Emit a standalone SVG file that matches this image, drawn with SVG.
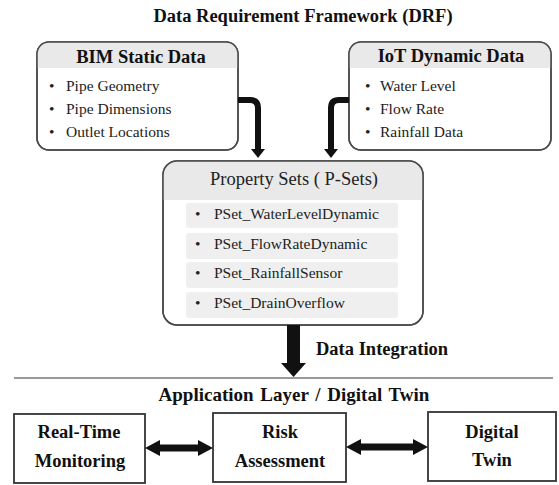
<svg xmlns="http://www.w3.org/2000/svg" width="559" height="485" viewBox="0 0 559 485">
  <style>
    .title { font-family: "Liberation Serif", "Times New Roman", serif; font-weight: bold; fill: #111; }
    .item { font-family: "Liberation Serif", "Times New Roman", serif; font-size: 15.5px; fill: #222; }
    .card { fill: #ffffff; stroke: #4a4a4a; stroke-width: 1.5; }
    .head { fill: #e9e9e9; }
    .row { fill: #efefef; }
    .box { fill: #ffffff; stroke: #333333; stroke-width: 1.8; }
    .link { fill: none; stroke: #111; stroke-width: 6; }
    .solid { fill: #111; }
  </style>
  <defs>
    <marker id="tip" markerUnits="userSpaceOnUse" markerWidth="10" markerHeight="14" refX="0" refY="7" orient="auto">
      <path d="M0,0 L9,7 L0,14 Z" fill="#111"/>
    </marker>
    <clipPath id="clipBim"><rect x="37" y="42" width="201" height="108" rx="12"/></clipPath>
    <clipPath id="clipIot"><rect x="349" y="42" width="202" height="108" rx="12"/></clipPath>
    <clipPath id="clipPset"><rect x="163" y="161" width="260" height="164" rx="14"/></clipPath>
  </defs>

  <rect width="559" height="485" fill="#ffffff"/>

  <text class="title" x="303" y="22" font-size="18.5" text-anchor="middle">Data Requirement Framework (DRF)</text>

  <!-- static BIM data card -->
  <g id="bim">
    <rect class="card" x="37" y="42" width="201" height="108" rx="12"/>
    <rect class="head" x="37" y="42" width="201" height="26" clip-path="url(#clipBim)"/>
    <rect x="37" y="42" width="201" height="108" rx="12" fill="none" stroke="#4a4a4a" stroke-width="1.5"/>
    <text class="title" x="141" y="63" font-size="18.5" text-anchor="middle">BIM Static Data</text>
    <text class="item" x="49" y="91">•</text>
    <text class="item" x="66" y="91">Pipe Geometry</text>
    <text class="item" x="49" y="114">•</text>
    <text class="item" x="66" y="114">Pipe Dimensions</text>
    <text class="item" x="49" y="137">•</text>
    <text class="item" x="66" y="137">Outlet Locations</text>
  </g>

  <!-- dynamic IoT data card -->
  <g id="iot">
    <rect class="card" x="349" y="42" width="202" height="108" rx="12"/>
    <rect class="head" x="349" y="42" width="202" height="26" clip-path="url(#clipIot)"/>
    <rect x="349" y="42" width="202" height="108" rx="12" fill="none" stroke="#4a4a4a" stroke-width="1.5"/>
    <text class="title" x="451" y="62" font-size="18.5" text-anchor="middle">IoT Dynamic Data</text>
    <text class="item" x="365" y="91">•</text>
    <text class="item" x="380" y="91">Water Level</text>
    <text class="item" x="365" y="114">•</text>
    <text class="item" x="380" y="114">Flow Rate</text>
    <text class="item" x="365" y="137">•</text>
    <text class="item" x="380" y="137">Rainfall Data</text>
  </g>

  <!-- property sets card -->
  <g id="psets">
    <rect class="card" x="163" y="161" width="260" height="164" rx="14"/>
    <rect class="head" x="163" y="161" width="260" height="39" clip-path="url(#clipPset)"/>
    <rect x="163" y="161" width="260" height="164" rx="14" fill="none" stroke="#4a4a4a" stroke-width="1.5"/>
    <text x="294" y="185" font-family="Liberation Serif, Times New Roman, serif" font-size="18.5" fill="#222" text-anchor="middle">Property Sets ( P-Sets)</text>
    <rect class="row" x="186" y="203" width="212" height="25" rx="3"/>
    <rect class="row" x="186" y="233" width="212" height="26" rx="3"/>
    <rect class="row" x="186" y="262" width="212" height="26" rx="3"/>
    <rect class="row" x="186" y="292" width="212" height="26" rx="3"/>
    <text class="item" x="195" y="219">•</text>
    <text class="item" x="214" y="219">PSet_WaterLevelDynamic</text>
    <text class="item" x="195" y="249">•</text>
    <text class="item" x="214" y="249">PSet_FlowRateDynamic</text>
    <text class="item" x="195" y="278">•</text>
    <text class="item" x="214" y="278">PSet_RainfallSensor</text>
    <text class="item" x="195" y="308">•</text>
    <text class="item" x="214" y="308">PSet_DrainOverflow</text>
  </g>

  <!-- application layer -->
  <line x1="14" y1="378" x2="553" y2="378" stroke="#777" stroke-width="1.5"/>
  <text class="title" x="294" y="401" font-size="19" text-anchor="middle" word-spacing="2">Application Layer / Digital Twin</text>

  <g id="monitoring">
    <rect class="box" x="14" y="414" width="131" height="69"/>
    <text class="title" x="79" y="438" font-size="18.5" text-anchor="middle">Real-Time</text>
    <text class="title" x="80" y="467" font-size="18.5" text-anchor="middle">Monitoring</text>
  </g>
  <g id="risk">
    <rect class="box" x="213" y="413" width="133" height="69"/>
    <text class="title" x="280" y="438" font-size="18.5" text-anchor="middle">Risk</text>
    <text class="title" x="280" y="467" font-size="18.5" text-anchor="middle">Assessment</text>
  </g>
  <g id="twin">
    <rect class="box" x="428" y="412" width="128" height="69"/>
    <text class="title" x="492" y="438" font-size="18.5" text-anchor="middle">Digital</text>
    <text class="title" x="492" y="466" font-size="18.5" text-anchor="middle">Twin</text>
  </g>

  <!-- connectors -->
  <g id="connectors">
    <path class="link" d="M238,100 H250 Q258,100 258,108 V149" marker-end="url(#tip)"/>
    <path class="link" d="M349,100 H339 Q331,100 331,108 V149" marker-end="url(#tip)"/>
    <polygon class="solid" points="287,325 300,325 300,363 306,363 293.5,377 281,363 287,363"/>
    <polygon class="solid" points="145,448 160,440 160,444.5 198,444.5 198,440 213,448 198,456 198,451.5 160,451.5 160,456"/>
    <polygon class="solid" points="346,447 361,439 361,443.5 413,443.5 413,439 428,447 413,455 413,450.5 361,450.5 361,455"/>
  </g>
  <text class="title" x="316" y="355" font-size="18.5">Data Integration</text>
</svg>
